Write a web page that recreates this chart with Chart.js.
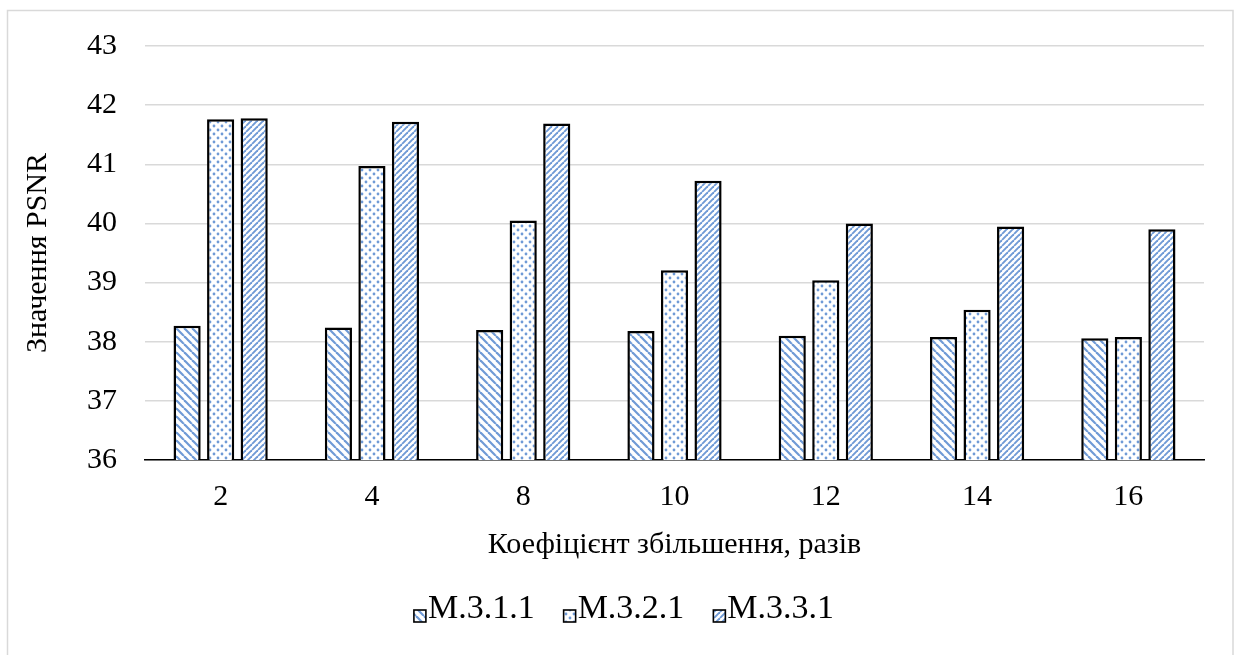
<!DOCTYPE html>
<html>
<head>
<meta charset="utf-8">
<script src="https://cdn.jsdelivr.net/npm/chart.js@4.4.1/dist/chart.umd.min.js"></script>
<style>
  html, body { margin: 0; padding: 0; background: #fff; }
  #wrap { width: 1235px; height: 655px; position: relative; overflow: hidden; }
</style>
</head>
<body>
<div id="wrap"><canvas id="c" width="1235" height="655"></canvas></div>
<script>
// Upscaling factor categories and PSNR values for each method
const categories = ['2', '4', '8', '10', '12', '14', '16'];
const seriesNames = ['M.3.1.1', 'M.3.2.1', 'M.3.3.1'];
const m311 = [38.27, 38.24, 38.20, 38.18, 38.10, 38.08, 38.06];
const m321 = [41.76, 40.97, 40.05, 39.21, 39.04, 38.54, 38.08];
const m331 = [41.78, 41.72, 41.69, 40.72, 40.00, 39.95, 39.90];
const yTicks = [36, 37, 38, 39, 40, 41, 42, 43];

const FONT = '"Liberation Serif", "Times New Roman", serif';
const STRIPE = '#6f9ad6';

const canvas = document.getElementById('c');
const ctx = canvas.getContext('2d');

// Hatch fills: "\" stripes, dots, "/" stripes
function makePattern(kind) {
  const s = kind === 'up' ? 6 : 8;
  const t = document.createElement('canvas');
  t.width = s; t.height = s;
  const g = t.getContext('2d');
  g.fillStyle = '#fff';
  g.fillRect(0, 0, s, s);
  g.strokeStyle = STRIPE;
  g.fillStyle = STRIPE;
  g.lineWidth = kind === 'up' ? 1.9 : 2.2;
  if (kind === 'down') {
    for (const k of [-s, 0, s]) { g.beginPath(); g.moveTo(k, 0); g.lineTo(k + s, s); g.stroke(); }
  } else if (kind === 'up') {
    for (const k of [-s, 0, s]) { g.beginPath(); g.moveTo(k, s); g.lineTo(k + s, 0); g.stroke(); }
  } else {
    for (const [px, py] of [[2, 2], [6, 6]]) { g.beginPath(); g.arc(px, py, 1.4, 0, Math.PI * 2); g.fill(); }
  }
  return ctx.createPattern(t, 'repeat');
}
const fills = [makePattern('down'), makePattern('dots'), makePattern('up')];

// Outer chart frame
const framePlugin = {
  id: 'frame',
  beforeDraw(chart) {
    const c = chart.ctx;
    c.save();
    c.fillStyle = '#fff';
    c.fillRect(0, 0, chart.width, chart.height);
    c.strokeStyle = '#d9d9d9';
    c.lineWidth = 1.5;
    c.strokeRect(7.5, 10.5, 1225.5, 660);
    c.restore();
  }
};

// Legend row with small patterned swatches, centred on the whole chart
const legendPlugin = {
  id: 'swatchLegend',
  afterDraw(chart) {
    const c = chart.ctx;
    c.save();
    c.font = '34px ' + FONT;
    c.textBaseline = 'alphabetic';
    const box = 12, gap = 2, spacing = 29;
    const widths = seriesNames.map(n => box + gap + c.measureText(n).width);
    const total = widths.reduce((a, b) => a + b, 0) + spacing * (seriesNames.length - 1);
    let x = 624 - total / 2;
    const baseY = 618;
    seriesNames.forEach((name, i) => {
      c.fillStyle = fills[i];
      c.fillRect(x, baseY - 8, box, box);
      c.strokeStyle = '#000';
      c.lineWidth = 1.6;
      c.strokeRect(x, baseY - 8, box, box);
      c.fillStyle = '#000';
      c.fillText(name, x + box + gap, baseY);
      x += widths[i] + spacing;
    });
    c.restore();
  }
};

const data = [m311, m321, m331];

new Chart(canvas, {
  type: 'bar',
  data: {
    labels: categories,
    datasets: seriesNames.map((name, i) => ({
      label: name,
      data: data[i],
      backgroundColor: fills[i],
      borderColor: '#000',
      borderWidth: 2.5,
      borderSkipped: false,
      barPercentage: 0.81,
      categoryPercentage: 0.665
    }))
  },
  options: {
    responsive: false,
    animation: false,
    devicePixelRatio: 1,
    layout: { padding: { left: 0, top: 42, right: 31, bottom: 0 } },
    plugins: {
      legend: { display: false },
      tooltip: { enabled: false }
    },
    scales: {
      x: {
        grid: { display: false, drawTicks: false },
        border: { display: true, color: '#000', width: 1.5 },
        ticks: { color: '#000', font: { family: FONT, size: 30 }, padding: 19 },
        title: {
          display: true,
          text: 'Коефіцієнт збільшення, разів',
          color: '#000',
          font: { family: FONT, size: 30 },
          padding: { top: 0, bottom: 92 }
        },
        afterFit(scale) { scale.height = 195; }
      },
      y: {
        min: 36,
        max: 43,
        afterBuildTicks(scale) { scale.ticks = yTicks.map(v => ({ value: v })); },
        grid: { color: '#d9d9d9', lineWidth: 1.5, drawTicks: false },
        border: { display: false },
        ticks: { color: '#000', font: { family: FONT, size: 30 }, padding: 28 },
        title: {
          display: true,
          text: 'Значення PSNR',
          color: '#000',
          font: { family: FONT, size: 30 },
          padding: { top: 20, bottom: 0 }
        },
        afterFit(scale) { scale.width = 145; }
      }
    }
  },
  plugins: [framePlugin, legendPlugin]
});
</script>
</body>
</html>
